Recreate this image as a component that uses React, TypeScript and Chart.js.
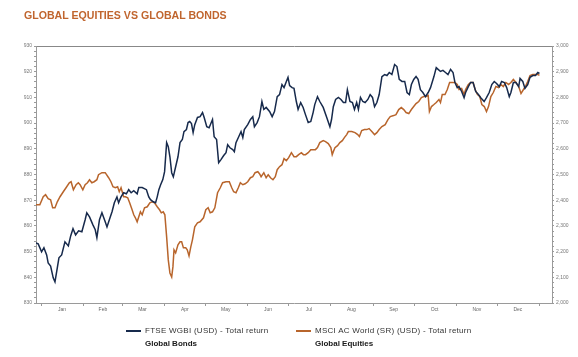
import React, { useEffect, useRef } from 'react';
import { Chart, registerables } from 'chart.js';

Chart.register(...registerables);

const NAVY = '#172a4c';
const ORANGE = '#b8652c';
const AXIS_GRAY = '#9a9a9a';
const FONT = '"Liberation Sans", Arial, sans-serif';

const monthLabels = ['Jan', 'Feb', 'Mar', 'Apr', 'May', 'Jun', 'Jul', 'Aug', 'Sep', 'Oct', 'Nov', 'Dec'];
const monthMidDays = [15, 45, 74, 105, 135, 166, 196, 227, 258, 288, 319, 349];
const monthStartDays = [0, 31, 59, 90, 120, 151, 181, 212, 243, 273, 304, 334, 365];

const bondTickValues = [830, 840, 850, 860, 870, 880, 890, 900, 910, 920, 930];
const equityTickValues = [2000, 2100, 2200, 2300, 2400, 2500, 2600, 2700, 2800, 2900, 3000];

const bondDays = [-4.1,-2.4,0.1,1.8,3.8,4.9,6.7,8.6,9.9,11.6,12.8,14.8,17.2,19.7,21.4,23.1,25,27.2,29.6,32,33.2,35.2,37.7,39.4,40.6,42.5,44.3,46.7,48,50.4,51.7,53.4,55.3,56.5,58.3,60.2,62.2,63.9,65.7,67.6,70.1,71.3,73.8,76.9,78.6,79.9,81.9,83.6,84.8,86,87.3,88.9,90.2,91.7,92.9,94.1,95.4,96.6,98.3,100,101.5,103.2,104.4,106.2,107.4,108.6,109.9,111.1,112.3,114.3,116.2,118,119.2,121.1,122.8,125.3,126.5,128.3,129.8,131.5,133.5,135.2,136.4,138.1,140.1,141.3,142.5,144.5,146.2,147.5,148.6,151.1,153.1,154.8,156,158,159.7,161.5,162.9,164.6,167.1,169,170.7,172.7,174.4,176.2,177.7,179.4,180.6,181.8,183.6,185,186.7,188,189.9,191.7,193.4,195.4,197.3,199,200.2,202.2,203.9,206.4,208.8,211.3,212.5,213.8,215.5,217.5,219.4,221.2,222.8,224.1,226,227.8,229.3,230.9,232.2,233.7,235.4,237.1,239.1,240.8,242.5,244,245.7,247.4,249.4,251.4,253.1,254.8,256.7,258.7,260.4,262.1,264.1,266.1,267.8,269.5,271,272.7,274.4,275.9,277.6,279.4,281.3,283.3,285,287.5,289.2,290.6,292.3,294.1,296,297.8,299.7,301.5,302.9,304.6,305.9,307.8,309.6,310.7,312.7,314.4,316.2,318.1,320.1,321.8,324.3,326,328,329.9,331.7,333.4,335.4,337.1,339.1,340.8,342.7,343.9,345.7,347.6,349.6,350.6,352.6,354.2,356.2,357.9,359.9,361.9,363.6,364.8];

const bondValues = [853.4,853.0,849.9,851.5,848.7,845.6,844.4,839.8,838.2,843.7,847.6,848.7,853.8,852.2,856.1,858.9,856.5,858.1,857.7,862.4,865.1,863.5,860.4,858.5,855.4,862.4,865.1,861.6,859.6,863.5,865.5,869,871.3,869,871.3,872.9,872.5,874.1,872.9,873.7,872.5,874.9,874.9,874.1,871.3,870.2,869.4,869,871.3,874.1,876,878,881.1,892.4,890.8,886.9,880.7,879.1,883,886.9,892.4,893.6,896.7,897.5,900.2,900.6,899.8,896.3,899.4,902.2,902.5,904.1,902.2,898.6,898.2,901.4,894.7,893.6,884.6,885.8,887.4,888.5,891.6,890.4,889.7,888.9,892.4,894.7,896.7,894.4,897.5,899.4,901.4,902.5,898.6,900.2,902.5,908.4,905.3,906.1,904.5,902.5,904.5,910.3,911.1,915,913.8,916.2,917.8,914.6,913.8,913.5,908.4,905.3,908,906.1,903.3,900.2,900.6,904.1,907.2,910.3,908.4,906.1,902.5,898.6,901.4,906.4,909.2,910,909.2,908,908,913,908.4,908,905.3,908,905.3,910,908.4,908,909.2,911.1,910,906.4,908,911.1,918.1,918.9,918.5,919.7,918.9,922.8,922,917,916.2,916.2,911.9,911.1,915,917,918.1,917,913,911.9,910.3,911.9,913.8,918.1,921.6,920.9,920.1,920.5,919.7,918.9,920.9,919.7,915.8,913.8,914.2,912.3,909.9,911.9,914.2,915.8,915.8,912.3,911.1,909.9,908.4,909.9,911.9,915,916.2,915.4,914.2,916.2,915.8,913.8,910.3,911.9,915.8,915.8,914.2,917.4,916.2,913.5,915,917.8,918.5,918.5,919.7,919.3];

const equityDays = [-4.1,-1.2,1.3,3,4.9,6.7,8.2,9.9,11.6,13.6,16,18,20.4,21.7,23.4,25.4,27,28.3,30.3,32,33.7,35.2,36.9,38.6,40.6,41.8,44.3,46.7,49.2,50.9,52.4,54.1,55.8,57,58.3,60.2,61.5,63.2,64.6,66.4,67.6,68.8,70.1,71.3,72.5,73.8,75.5,77.5,79.4,81.1,82.8,84.8,86.5,87.8,89.2,90.4,91.7,92.9,94.1,95.4,96.3,97.1,98.3,100,101.5,102.7,104,105.7,106.8,108.1,109.4,110.6,112.3,114.3,116.2,118.7,120.4,122.1,123.6,125.3,127,129,131,132.7,135.2,137.6,139.4,140.8,142.5,144.2,145.7,147.5,149.2,151.1,153.1,154.8,156.5,158.5,159.7,160.9,162.9,164.6,166.1,167.8,169.6,171.3,172.7,174.4,176.2,177.7,179.4,181.1,183.1,185,186.7,188.4,190.4,191.9,193.4,195.4,197.3,200.7,202.2,203.9,206.4,208.1,210.1,212,213,213.8,215,216.9,218.6,220.4,221.9,223.6,224.8,227.3,229.7,231.7,232.9,234.6,236.6,238.3,240,242,244,245.7,247.4,249.4,251.8,253.8,255.5,258,259.7,261.7,263.6,265.4,267.1,269.1,271,272.7,274.4,276.4,278.3,280.1,281.8,283.3,284.2,285.7,287.5,289.2,291.2,292.3,293.6,295.6,297.3,299,301,302.9,304.6,305.9,307.8,309.6,310.7,312.7,314.4,316.2,317.7,319.4,321.1,322.6,324.4,326,327.5,329.2,331,332.9,334.9,336.6,338.3,340.2,342.2,343.9,345.7,347.6,349.6,351.3,353.1,354.5,356.2,357.9,359.9,361.9,363.6,364.8];

const equityValues = [2382.2,2382,2413.4,2421.2,2405.6,2401.7,2370.5,2370.5,2393.9,2413.4,2432.9,2448.5,2468,2471.9,2440.7,2460.2,2468,2460.2,2440.7,2460.2,2468,2479.7,2468,2471.9,2479.7,2499.3,2507.1,2507.1,2487.5,2471.9,2452.4,2448.5,2452.4,2432.9,2448.5,2413.4,2413.4,2409.5,2390,2362.7,2343.2,2331.5,2315.9,2335.4,2354.9,2343.2,2370.5,2374.4,2390,2393.9,2390,2374.4,2362.7,2351,2354.9,2343.2,2257.4,2167.7,2117,2101.4,2140.4,2206.7,2195,2226.2,2238,2238,2214.5,2214.5,2206.7,2183.3,2218.4,2245.7,2296.4,2312,2315.9,2331.5,2362.7,2370.5,2351,2354.9,2370.5,2429,2448.5,2468,2471.9,2471.9,2448.5,2432.9,2429,2448.5,2468,2460.2,2464.1,2471.9,2487.5,2491.4,2507.1,2511,2503.1,2491.4,2507.1,2487.5,2499.3,2487.5,2479.7,2491.4,2518.7,2530.5,2538.2,2561.6,2553.8,2565.5,2585,2569.4,2569.4,2577.2,2585,2577.2,2577.2,2585,2596.7,2596.7,2604.5,2624,2631.8,2627.9,2620.1,2604.5,2577.2,2589,2604.5,2612.3,2624,2631.8,2643.5,2655.3,2667,2667,2663,2655.3,2647.4,2670.8,2674.7,2674.7,2678.6,2667,2655.3,2663,2674.7,2686.4,2694.2,2713.7,2725.4,2729.3,2733.2,2752.7,2760.5,2752.7,2741,2737.1,2752.7,2764.4,2776.1,2784,2799.5,2803.4,2803.4,2807.3,2744.9,2764.4,2772.2,2780,2791.7,2780,2811.2,2811.2,2830.7,2858,2858,2858,2850.3,2830.7,2834.6,2811.2,2830.7,2850.3,2858,2858,2830.7,2811.2,2803.4,2772.2,2764.4,2744.9,2764.4,2803.4,2819,2842.4,2838.5,2850.3,2842.4,2858,2850.3,2858,2869.7,2858,2842.4,2815.1,2830.7,2842.4,2862,2885.3,2889.2,2889.2,2889.2,2885.3];

const seriesNames = ['FTSE WGBI (USD) - Total return', 'MSCI AC World (SR) (USD) - Total return'];
const seriesSubtitles = ['Global Bonds', 'Global Equities'];
const chartTitle = 'GLOBAL EQUITIES VS GLOBAL BONDS';

function minorTicks(min: number, max: number, step: number) {
  const out: { value: number }[] = [];
  for (let v = min; v <= max + 1e-9; v += step) out.push({ value: Math.round(v * 100) / 100 });
  return out;
}

export default function App() {
  const ref = useRef<HTMLCanvasElement>(null);

  useEffect(() => {
    const tickFont = { size: 5, family: FONT };
    const chart = new Chart(ref.current!, {
      type: 'line',
      data: {
        datasets: [
          {
            label: seriesNames[0],
            data: bondDays.map((d, i) => ({ x: d, y: bondValues[i] })),
            borderColor: NAVY,
            backgroundColor: NAVY,
            borderWidth: 1.5,
            pointRadius: 0,
            tension: 0,
            yAxisID: 'y',
          },
          {
            label: seriesNames[1],
            data: equityDays.map((d, i) => ({ x: d, y: equityValues[i] })),
            borderColor: ORANGE,
            backgroundColor: ORANGE,
            borderWidth: 1.5,
            pointRadius: 0,
            tension: 0,
            yAxisID: 'y1',
          },
        ],
      },
      options: {
        animation: false,
        responsive: true,
        maintainAspectRatio: false,
        layout: { padding: { top: 46, left: 0, right: 0, bottom: 0 } },
        plugins: { legend: { display: false }, tooltip: { enabled: false }, title: { display: false } },
        scales: {
          x: {
            type: 'linear',
            min: -4,
            max: 374,
            afterBuildTicks: (s: any) => {
              s.ticks = [...monthStartDays, ...monthMidDays].sort((a, b) => a - b).map((v) => ({ value: v }));
            },
            afterFit: (s: any) => {
              s.height = 54;
            },
            ticks: {
              autoSkip: false,
              maxRotation: 0,
              padding: 1,
              color: '#666',
              font: tickFont,
              callback: (v: any) => {
                const i = monthMidDays.indexOf(Number(v));
                return i >= 0 ? monthLabels[i] : '';
              },
            },
            grid: {
              drawOnChartArea: false,
              tickLength: 3,
              tickColor: (ctx: any) => (ctx.tick && monthMidDays.includes(ctx.tick.value) ? 'rgba(0,0,0,0)' : AXIS_GRAY),
            },
            border: { color: AXIS_GRAY },
          },
          y: {
            position: 'left',
            min: 830,
            max: 930,
            afterBuildTicks: (s: any) => {
              s.ticks = minorTicks(830, 930, 2);
            },
            afterFit: (s: any) => {
              s.width = 36;
            },
            ticks: {
              autoSkip: false,
              padding: 2,
              color: '#777',
              font: tickFont,
              callback: (v: any) => (bondTickValues.includes(Number(v)) ? String(v) : ''),
            },
            grid: {
              drawOnChartArea: true,
              tickLength: 2,
              tickColor: AXIS_GRAY,
              color: (ctx: any) => (ctx.tick && ctx.tick.value === 930 ? '#888' : 'rgba(0,0,0,0)'),
            },
            border: { color: AXIS_GRAY },
          },
          y1: {
            position: 'right',
            min: 2000,
            max: 3000,
            afterBuildTicks: (s: any) => {
              s.ticks = minorTicks(2000, 3000, 20);
            },
            afterFit: (s: any) => {
              s.width = 26;
            },
            ticks: {
              autoSkip: false,
              padding: 2,
              color: '#777',
              font: tickFont,
              callback: (v: any) => (equityTickValues.includes(Number(v)) ? Number(v).toLocaleString('en-US') : ''),
            },
            grid: { drawOnChartArea: false, tickLength: 2, tickColor: AXIS_GRAY },
            border: { color: AXIS_GRAY },
          },
        },
      },
    } as any);
    return () => chart.destroy();
  }, []);

  const legendText: React.CSSProperties = {
    position: 'absolute',
    fontFamily: FONT,
    fontSize: 8,
    lineHeight: '8px',
    letterSpacing: '0.27px',
    color: '#333',
    whiteSpace: 'nowrap',
  };
  const legendBold: React.CSSProperties = { ...legendText, letterSpacing: '0px', fontWeight: 'bold', color: '#1a1a1a' };

  return (
    <div style={{ position: 'fixed', left: 0, top: 0, width: 578, height: 357, background: '#fff', overflow: 'hidden' }}>
      <canvas ref={ref} width={578} height={357} style={{ position: 'absolute', left: 0, top: 0 }} />
      <div
        style={{
          position: 'absolute',
          left: 24,
          top: 10,
          fontFamily: FONT,
          fontWeight: 'bold',
          fontSize: 10.6,
          lineHeight: '11px',
          color: '#c0652e',
          whiteSpace: 'nowrap',
        }}
      >
        {chartTitle}
      </div>
      <div style={{ position: 'absolute', left: 126, top: 330, width: 15, height: 2, background: NAVY }} />
      <div style={{ ...legendText, left: 145, top: 327 }}>{seriesNames[0]}</div>
      <div style={{ ...legendBold, left: 145, top: 340 }}>{seriesSubtitles[0]}</div>
      <div style={{ position: 'absolute', left: 296, top: 330, width: 15, height: 2, background: ORANGE }} />
      <div style={{ ...legendText, left: 315, top: 327 }}>{seriesNames[1]}</div>
      <div style={{ ...legendBold, left: 315, top: 340 }}>{seriesSubtitles[1]}</div>
    </div>
  );
}
